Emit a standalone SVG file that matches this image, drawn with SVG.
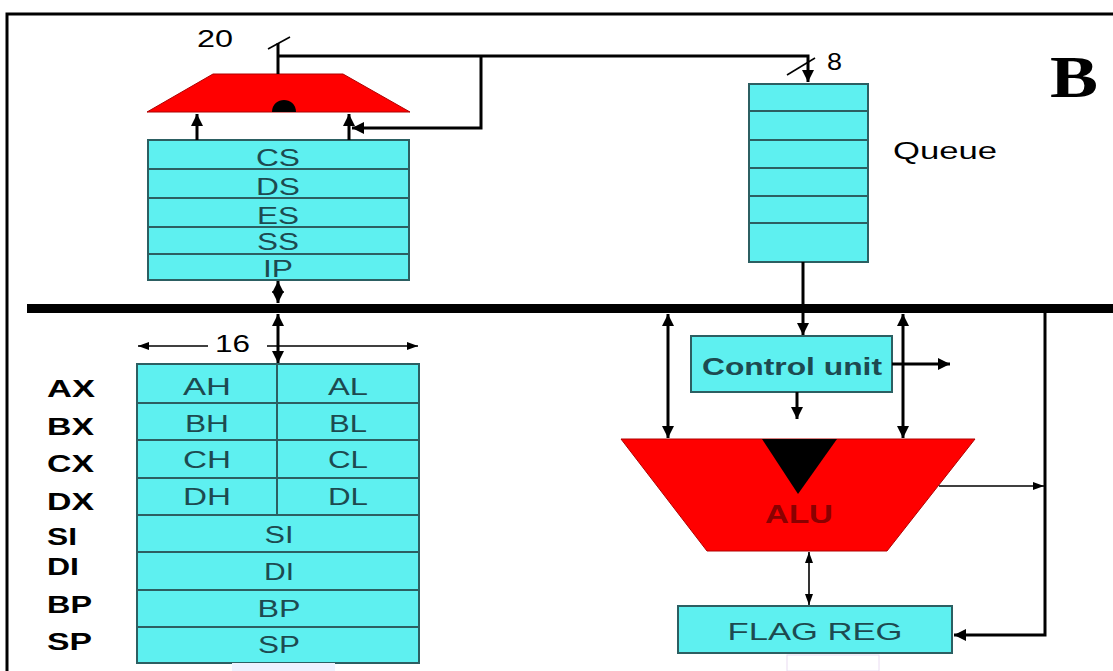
<svg xmlns="http://www.w3.org/2000/svg" width="1113" height="671" viewBox="0 0 1113 671">
<style>
.cy{fill:#5ef0f0;stroke:#2c5f62;stroke-width:2}
.row{stroke:#2c5f62;stroke-width:2}
.rt{font-family:"Liberation Sans",Arial,sans-serif;fill:#1d4a50;text-anchor:middle;font-size:24px}
.lb{font-family:"Liberation Sans",Arial,sans-serif;fill:#000;font-weight:bold;font-size:24px}
.tx{font-family:"Liberation Sans",Arial,sans-serif;fill:#000;font-size:24px}
.w{fill:none;stroke:#000;stroke-width:3}
.t{fill:none;stroke:#000;stroke-width:1.6}
.red{fill:#ff0000;stroke:#b00000;stroke-width:1}
</style>
<defs>
<marker id="ah" markerUnits="userSpaceOnUse" markerWidth="14" markerHeight="14" refX="12" refY="6" orient="auto-start-reverse">
<path d="M0,0 L12,6 L0,12 Z" fill="#000"/>
</marker>
<marker id="as" markerUnits="userSpaceOnUse" markerWidth="12" markerHeight="10" refX="11" refY="4" orient="auto-start-reverse">
<path d="M0,0 L11,4 L0,8 Z" fill="#000"/>
</marker>
</defs>
<rect width="1113" height="671" fill="#fff"/>
<path d="M7,671 V14 H1113" fill="none" stroke="#000" stroke-width="3"/>

<g id="label-B"><text x="1050" y="97" font-family="Liberation Serif,serif" font-weight="bold" font-size="60" textLength="48" lengthAdjust="spacingAndGlyphs">B</text></g>

<g id="bus"><rect x="27" y="304" width="1086" height="9" fill="#000"/></g>

<g id="adder">
<polygon class="red" points="213,74 343,74 410,112 147,112"/>
<path d="M272,112 C272,96 296,96 296,112 Z" fill="#000"/>
</g>

<g id="segment-registers">
<rect class="cy" x="148" y="140" width="261" height="140"/>
<path class="row" d="M148,169 H409 M148,198 H409 M148,227 H409 M148,254 H409"/>
<text class="rt" x="278" y="166" font-size="22" textLength="44" lengthAdjust="spacingAndGlyphs">CS</text>
<text class="rt" x="278" y="195" font-size="22" textLength="44" lengthAdjust="spacingAndGlyphs">DS</text>
<text class="rt" x="278" y="224" font-size="22" textLength="42" lengthAdjust="spacingAndGlyphs">ES</text>
<text class="rt" x="278" y="250" font-size="22" textLength="42" lengthAdjust="spacingAndGlyphs">SS</text>
<text class="rt" x="278" y="277" font-size="22" textLength="30" lengthAdjust="spacingAndGlyphs">IP</text>
</g>

<g id="queue">
<rect class="cy" x="749" y="84" width="119" height="178"/>
<path class="row" d="M749,111 H868 M749,140 H868 M749,168 H868 M749,196 H868 M749,223 H868"/>
<text class="tx" x="893" y="159" font-size="21" textLength="104" lengthAdjust="spacingAndGlyphs">Queue</text>
</g>

<g id="general-registers">
<rect class="cy" x="137" y="364" width="282" height="299"/>
<path class="row" d="M137,403 H419 M137,440 H419 M137,478 H419 M137,515 H419 M137,552 H419 M137,590 H419 M137,627 H419 M277,364 V515"/>
<text class="rt" x="207" y="395" textLength="48" lengthAdjust="spacingAndGlyphs">AH</text>
<text class="rt" x="348" y="395" textLength="40" lengthAdjust="spacingAndGlyphs">AL</text>
<text class="rt" x="207" y="432" textLength="44" lengthAdjust="spacingAndGlyphs">BH</text>
<text class="rt" x="348" y="432" textLength="38" lengthAdjust="spacingAndGlyphs">BL</text>
<text class="rt" x="207" y="468" textLength="48" lengthAdjust="spacingAndGlyphs">CH</text>
<text class="rt" x="348" y="468" textLength="40" lengthAdjust="spacingAndGlyphs">CL</text>
<text class="rt" x="207" y="505" textLength="48" lengthAdjust="spacingAndGlyphs">DH</text>
<text class="rt" x="348" y="505" textLength="40" lengthAdjust="spacingAndGlyphs">DL</text>
<text class="rt" x="279" y="543" textLength="29" lengthAdjust="spacingAndGlyphs">SI</text>
<text class="rt" x="279" y="580" textLength="30" lengthAdjust="spacingAndGlyphs">DI</text>
<text class="rt" x="279" y="617" textLength="43" lengthAdjust="spacingAndGlyphs">BP</text>
<text class="rt" x="279" y="653" textLength="42" lengthAdjust="spacingAndGlyphs">SP</text>
<rect x="232" y="663" width="103" height="8" fill="#eef2ff"/>
</g>

<g id="register-names">
<text class="lb" x="47" y="397" textLength="48" lengthAdjust="spacingAndGlyphs">AX</text>
<text class="lb" x="47" y="435" textLength="47" lengthAdjust="spacingAndGlyphs">BX</text>
<text class="lb" x="47" y="472" textLength="47" lengthAdjust="spacingAndGlyphs">CX</text>
<text class="lb" x="47" y="510" textLength="47" lengthAdjust="spacingAndGlyphs">DX</text>
<text class="lb" x="47" y="545" textLength="30" lengthAdjust="spacingAndGlyphs">SI</text>
<text class="lb" x="47" y="575" textLength="32" lengthAdjust="spacingAndGlyphs">DI</text>
<text class="lb" x="47" y="613" textLength="45" lengthAdjust="spacingAndGlyphs">BP</text>
<text class="lb" x="47" y="650" textLength="45" lengthAdjust="spacingAndGlyphs">SP</text>
</g>

<g id="control-unit">
<rect class="cy" x="691" y="336" width="201" height="56"/>
<text class="rt" x="792" y="375" font-size="26" font-weight="bold" textLength="180" lengthAdjust="spacingAndGlyphs">Control unit</text>
</g>

<g id="alu">
<polygon points="621,439 975,439 887,551 707,551" fill="#ff0000" stroke="#b00000" stroke-width="1"/>
<polygon points="762,439 837,439 798,494" fill="#000"/>
<text x="799" y="523" font-family="Liberation Sans,Arial,sans-serif" font-size="26" font-weight="bold" fill="#8a0000" text-anchor="middle" textLength="68" lengthAdjust="spacingAndGlyphs">ALU</text>
</g>

<g id="flag-reg">
<rect class="cy" x="678" y="606" width="274" height="47"/>
<text class="rt" x="815" y="640" font-size="25" textLength="175" lengthAdjust="spacingAndGlyphs">FLAG REG</text>
<rect x="787" y="655" width="92" height="16" fill="#fff" stroke="#eadcf2" stroke-width="1"/>
</g>

<g id="labels">
<text class="tx" x="197" y="47" font-size="26" textLength="36" lengthAdjust="spacingAndGlyphs">20</text>
<text class="tx" x="827" y="70" font-size="21" textLength="15" lengthAdjust="spacingAndGlyphs">8</text>
<text class="tx" x="215" y="352" font-size="25" textLength="35" lengthAdjust="spacingAndGlyphs">16</text>
</g>

<g id="connectors">
<path class="w" d="M278,43 V74"/>
<path class="t" d="M268,49 L290,37"/>
<path class="w" d="M278,56 H808 V82" marker-end="url(#ah)"/>
<path class="t" d="M787,75 L815,58"/>
<path class="w" d="M481,56 V128 H352" marker-end="url(#ah)"/>
<path class="w" d="M197,140 V114" marker-end="url(#ah)"/>
<path class="w" d="M349,140 V114" marker-end="url(#ah)"/>
<path class="w" d="M278,281 V303" marker-start="url(#ah)" marker-end="url(#ah)"/>
<path class="w" d="M278,314 V363" marker-start="url(#ah)" marker-end="url(#ah)"/>
<path class="t" d="M208,346 H138" marker-end="url(#as)"/>
<path class="t" d="M267,346 H418" marker-end="url(#as)"/>
<path class="w" d="M803,262 V304"/>
<path class="w" d="M803,313 V335" marker-end="url(#ah)"/>
<path class="w" d="M668,314 V438" marker-start="url(#ah)" marker-end="url(#ah)"/>
<path class="w" d="M903,314 V438" marker-start="url(#ah)" marker-end="url(#ah)"/>
<path class="w" d="M892,364 H950" marker-end="url(#ah)"/>
<path class="w" d="M797,392 V419" marker-end="url(#ah)"/>
<path class="t" d="M939,486 H1044" marker-end="url(#as)"/>
<path class="w" d="M1045,313 V635 H954" marker-end="url(#ah)"/>
<path class="t" d="M809,552 V605" marker-start="url(#as)" marker-end="url(#as)"/>
</g>
</svg>
